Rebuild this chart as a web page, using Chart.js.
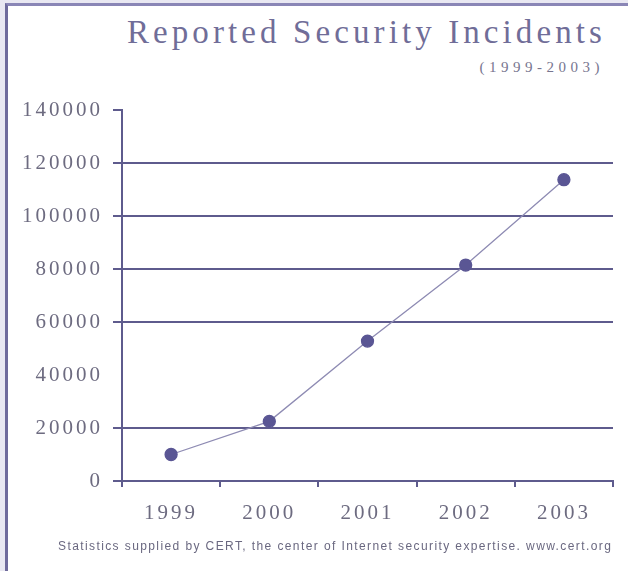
<!DOCTYPE html>
<html lang="en">
<head>
    <meta charset="UTF-8">
    <title>Reported Security Incidents</title>
    <script src="https://cdn.jsdelivr.net/npm/chart.js"></script>
    <style>
        html, body { margin: 0; padding: 0; background: #e9e8f2; }
        #frame {
            position: absolute; left: 5px; top: 3px; right: 0; bottom: 0;
            background: #ffffff;
            border-left: 3px solid #6f6b9c;
            border-top: 3px solid #8a86b6;
        }
        #title {
            position: absolute; right: 22px; top: 14px;
            font-family: "Liberation Serif", serif; font-size: 33px;
            letter-spacing: 4.1px; color: #706d98;
        }
        #subtitle {
            position: absolute; right: 24px; top: 59px;
            font-family: "Liberation Serif", serif; font-size: 15px;
            letter-spacing: 4.5px; color: #77758f;
        }
        #footer {
            position: absolute; left: 58px; top: 539px;
            font-family: "Liberation Sans", sans-serif; font-size: 12px;
            letter-spacing: 1.4px; color: #6a6880; white-space: nowrap;
        }
        canvas { position: absolute; left: 0; top: 0; }
    </style>
</head>
<body>
    <div id="frame"></div>
    <div id="title">Reported Security Incidents</div>
    <div id="subtitle">(1999-2003)</div>
    <canvas id="myChart" width="628" height="571"></canvas>
    <div id="footer">Statistics supplied by CERT, the center of Internet security expertise. www.cert.org</div>

    <script>
        // values
        const years = ["1999", "2000", "2001", "2002", "2003"];
        const incidents = [10000, 22500, 52800, 81500, 113700];
        const hiddenGrid = [40000, 140000];   // no line drawn across at these
        const hiddenTicks = [40000];

        const ink = "#5e5b8d";
        const tickFont = { family: "Liberation Serif", size: 21 };

        // the original spreads its axis digits out a bit
        const spacedText = {
            id: "spacedText",
            beforeDraw(chart) { chart.ctx.letterSpacing = "3px"; }
        };

        new Chart(document.getElementById("myChart"), {
            type: "line",
            data: {
                labels: years,
                datasets: [{
                    label: "Incidents",
                    data: incidents,
                    borderColor: "#8e8bb3",
                    borderWidth: 1.3,
                    pointRadius: 6,
                    pointBackgroundColor: "#5a5694",
                    pointBorderColor: "#5a5694",
                    fill: false,
                    tension: 0
                }]
            },
            options: {
                responsive: false,
                animation: false,
                devicePixelRatio: 1,
                layout: { padding: { left: 0, top: 110, right: 15, bottom: 40 } },
                plugins: {
                    legend: { display: false },
                    tooltip: { enabled: false }
                },
                scales: {
                    x: {
                        offset: true,
                        grid: {
                            offset: true,
                            drawOnChartArea: false,
                            tickLength: 6,
                            color: ink,
                            lineWidth: 2
                        },
                        border: { display: true, color: ink, width: 2 },
                        ticks: {
                            padding: 14,
                            color: "#6d6b80",
                            font: tickFont
                        },
                        afterFit: s => { s.height = 50; }
                    },
                    y: {
                        min: 0,
                        max: 140000,
                        ticks: {
                            stepSize: 20000,
                            padding: 10,
                            color: "#6d6b80",
                            font: tickFont,
                            callback: v => String(v)
                        },
                        grid: {
                            tickLength: 9,
                            lineWidth: 2,
                            color: c => hiddenGrid.includes(c.tick.value) ? "rgba(0,0,0,0)" : ink,
                            tickColor: c => hiddenTicks.includes(c.tick.value) ? "rgba(0,0,0,0)" : ink
                        },
                        border: { display: true, color: ink, width: 2 },
                        afterFit: s => { s.width = 122; }
                    }
                }
            },
            plugins: [spacedText]
        });
    </script>
</body>
</html>
